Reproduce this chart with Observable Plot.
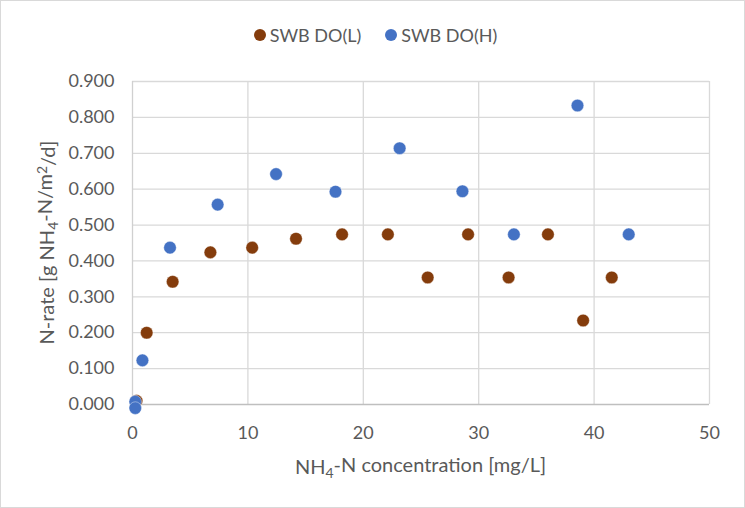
<!DOCTYPE html>
<html>
<head>
<meta charset="utf-8">
<script src="https://cdn.jsdelivr.net/npm/d3@7"></script>
<script src="https://cdn.jsdelivr.net/npm/@observablehq/plot@0.6"></script>
<style>
  html, body { margin: 0; padding: 0; background: #fff; }
  #chart {
    position: relative; width: 745px; height: 508px; box-sizing: border-box;
    border: 1px solid #d9d9d9; background: #fff; font-family: Lato, "Open Sans", sans-serif; color: #595959;
  }
  #legend {
    height: 59px; display: flex; align-items: center; justify-content: center;
    font-size: 18px; color: #595959; padding-left: 6px; padding-top: 8px; box-sizing: border-box;
  }
  .item { display: flex; align-items: center; margin: 0 12px; }
  .sw { width: 12px; height: 12px; border-radius: 50%; margin-right: 4px; display: inline-block; }
  svg { display: block; }
</style>
</head>
<body>
<div id="chart">
  <div id="legend"></div>
</div>
<script>
// Series names and colours
const seriesNames = ["SWB DO(L)", "SWB DO(H)"];
const seriesColors = ["#843C0C", "#4472C4"];

// SWB DO(L): NH4-N concentration [mg/L] and N-rate
const lowX = [0.35, 1.23, 3.48, 6.75, 10.37, 14.17, 18.16, 22.13, 25.58, 29.08, 32.59, 36.0, 39.05, 41.53];
const lowY = [0.010, 0.200, 0.342, 0.424, 0.437, 0.462, 0.474, 0.474, 0.354, 0.474, 0.354, 0.474, 0.234, 0.354];

// SWB DO(H)
const highX = [0.24, 0.24, 0.86, 3.25, 7.38, 12.44, 17.59, 23.15, 28.59, 33.05, 38.56, 43.0];
const highY = [0.008, -0.010, 0.123, 0.437, 0.557, 0.642, 0.593, 0.714, 0.594, 0.474, 0.833, 0.474];

// Axis ticks
const xTicks = [0, 10, 20, 30, 40, 50];
const yTicks = [0, 0.1, 0.2, 0.3, 0.4, 0.5, 0.6, 0.7, 0.8, 0.9];

const low = lowX.map((x, i) => ({x, y: lowY[i], s: seriesNames[0]}));
const high = highX.map((x, i) => ({x, y: highY[i], s: seriesNames[1]}));

// Legend
const legend = document.getElementById("legend");
seriesNames.forEach((n, i) => {
  const it = document.createElement("span");
  it.className = "item";
  const sw = document.createElement("span");
  sw.className = "sw";
  sw.style.background = seriesColors[i];
  it.appendChild(sw);
  it.appendChild(document.createTextNode(n));
  legend.appendChild(it);
});

const W = 743, H = 446;
const plot = Plot.plot({
  width: W,
  height: H,
  marginLeft: 131,
  marginRight: 35,
  marginTop: 21,
  marginBottom: 102,
  style: {fontFamily: "Lato, 'Open Sans', sans-serif", fontSize: "18px", color: "#595959", background: "#fff", overflow: "visible"},
  x: {domain: [0, 50], ticks: xTicks, label: null},
  y: {domain: [0, 0.9], ticks: yTicks, label: null, clamp: false},
  color: {domain: seriesNames, range: seriesColors},
  marks: [
    Plot.gridX(xTicks.slice(1), {stroke: "#d9d9d9", strokeOpacity: 1, strokeWidth: 1.3}),
    Plot.gridY(yTicks.slice(1), {stroke: "#d9d9d9", strokeOpacity: 1, strokeWidth: 1.3}),
    Plot.ruleX([0], {stroke: "#d0d0d0", strokeWidth: 1.3}),
    Plot.ruleY([0], {stroke: "#bfbfbf", strokeWidth: 1.3}),
    Plot.axisX({ticks: xTicks, tickSize: 0, tickPadding: 22, label: null, fill: "#595959", fontSize: 18, tickFormat: d3.format("d")}),
    Plot.axisY({ticks: yTicks, tickSize: 0, tickPadding: 18, label: null, fill: "#595959", fontSize: 18, tickFormat: d3.format(".3f")}),
    Plot.dot(low, {x: "x", y: "y", fill: "s", r: 6.3, stroke: "#fff", strokeWidth: 0.4}),
    Plot.dot(high, {x: "x", y: "y", fill: "s", r: 6.3, stroke: "#fff", strokeWidth: 0.4})
  ]
});
document.getElementById("chart").appendChild(plot);

// Axis titles with sub/superscripts
const svg = d3.select(plot);
const xt = svg.append("text")
  .attr("x", (131 + (W - 35)) / 2)
  .attr("y", H - 102 + 70)
  .attr("text-anchor", "middle")
  .attr("fill", "#595959")
  .attr("font-size", 20)
  .attr("font-family", "Lato, 'Open Sans', sans-serif");
xt.append("tspan").text("NH");
xt.append("tspan").attr("dy", "0.3em").attr("font-size", "0.7em").text("4");
xt.append("tspan").attr("dy", "-0.3em").text("-N concentration [mg/L]");

const cy = (21 + (H - 102)) / 2;
const yt = svg.append("text")
  .attr("transform", `translate(53,${cy}) rotate(-90)`)
  .attr("text-anchor", "middle")
  .attr("fill", "#595959")
  .attr("font-size", 20)
  .attr("font-family", "Lato, 'Open Sans', sans-serif");
yt.append("tspan").text("N-rate [g NH");
yt.append("tspan").attr("dy", "0.3em").attr("font-size", "0.7em").text("4");
yt.append("tspan").attr("dy", "-0.3em").text("-N/m");
yt.append("tspan").attr("dy", "-0.4em").attr("font-size", "0.7em").text("2");
yt.append("tspan").attr("dy", "0.4em").text("/d]");
</script>
</body>
</html>
